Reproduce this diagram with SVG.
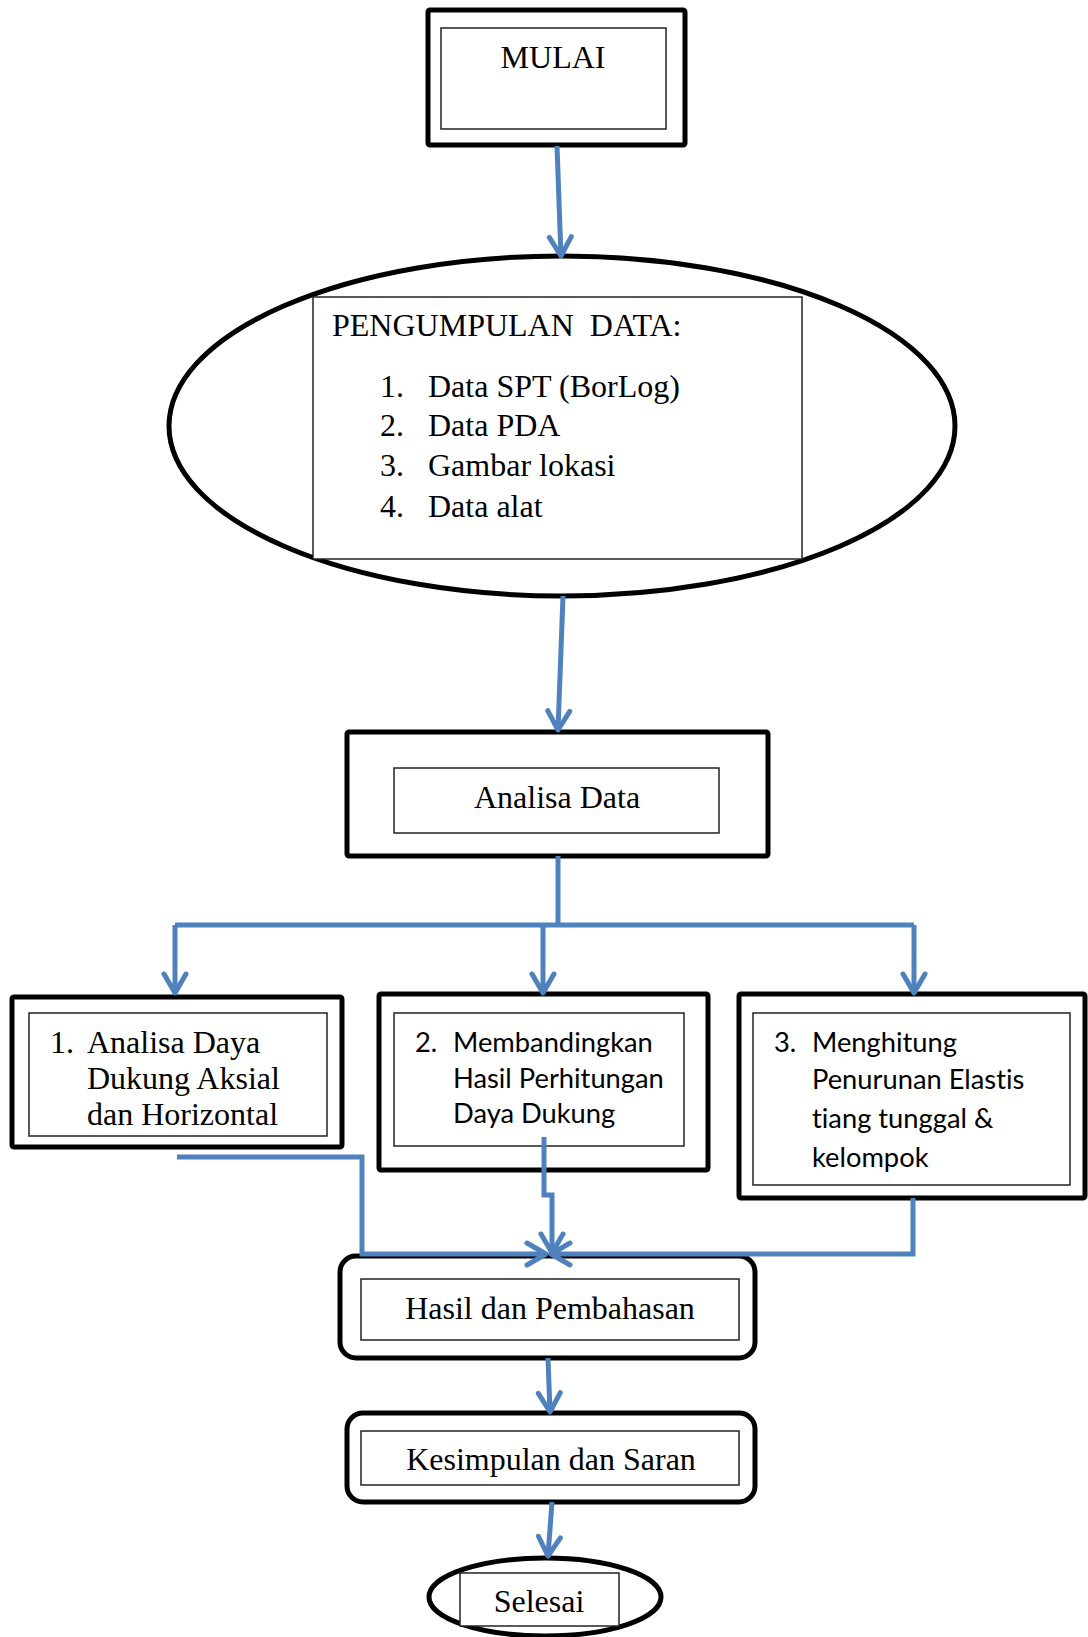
<svg xmlns="http://www.w3.org/2000/svg" width="1088" height="1637" viewBox="0 0 1088 1637">
<defs>
<style>
.outer{fill:#fff;stroke:#000;stroke-width:5}
.inner{fill:#fff;stroke:#222;stroke-width:1.5}
.serif{font-family:"Liberation Serif","Times New Roman",serif;font-size:32px;fill:#000}
.sans{font-family:Lato,"Open Sans",sans-serif;font-size:27.3px;fill:#000;font-variant-ligatures:none}
.mid{text-anchor:middle}
.conn{fill:none;stroke:#4F81BD;stroke-width:5;stroke-linejoin:miter}
</style>
<marker id="arr" markerUnits="userSpaceOnUse" viewBox="-24 -14 28 28" refX="0" refY="0" markerWidth="28" markerHeight="28" orient="auto" overflow="visible">
<path d="M-19,-11 L0,0 L-19,11" fill="none" stroke="#4F81BD" stroke-width="5" stroke-linecap="round" stroke-linejoin="round"/>
</marker>
</defs>
<rect width="1088" height="1637" fill="#fff"/>

<g id="mulai">
<rect class="outer" x="428" y="10" width="257" height="135" rx="2"/>
<rect class="inner" x="441" y="28" width="225" height="101"/>
<text class="serif mid" x="553" y="68">MULAI</text>
</g>

<g id="pengumpulan">
<ellipse cx="562" cy="426" rx="393" ry="170" fill="#fff" stroke="#000" stroke-width="5"/>
<rect class="inner" x="313" y="297" width="489" height="262"/>
<text class="serif" x="332" y="336" style="white-space:pre">PENGUMPULAN  DATA:</text>
<text class="serif" x="380" y="397">1.</text><text class="serif" x="428" y="397">Data SPT (BorLog)</text>
<text class="serif" x="380" y="436">2.</text><text class="serif" x="428" y="436">Data PDA</text>
<text class="serif" x="380" y="476">3.</text><text class="serif" x="428" y="476">Gambar lokasi</text>
<text class="serif" x="380" y="517">4.</text><text class="serif" x="428" y="517">Data alat</text>
</g>

<g id="analisa">
<rect class="outer" x="347" y="732" width="421" height="124" rx="2"/>
<rect class="inner" x="394" y="768" width="325" height="65"/>
<text class="serif mid" x="557" y="808">Analisa Data</text>
</g>

<g id="box1">
<rect class="outer" x="12" y="997" width="330" height="150" rx="2"/>
<rect class="inner" x="29" y="1013" width="298" height="123"/>
<text class="serif" x="50" y="1053">1.</text>
<text class="serif" x="87" y="1053">Analisa Daya</text>
<text class="serif" x="87" y="1089">Dukung Aksial</text>
<text class="serif" x="87" y="1125">dan Horizontal</text>
</g>

<g id="box2">
<rect class="outer" x="379" y="994" width="329" height="176" rx="2"/>
<rect class="inner" x="394" y="1013" width="290" height="133"/>
<text class="sans" x="415" y="1052">2.</text>
<text class="sans" x="453" y="1052">Membandingkan</text>
<text class="sans" x="453" y="1088">Hasil Perhitungan</text>
<text class="sans" x="453" y="1123">Daya Dukung</text>
</g>

<g id="box3">
<rect class="outer" x="739" y="994" width="346" height="204" rx="2"/>
<rect class="inner" x="753" y="1013" width="317" height="172"/>
<text class="sans" x="774" y="1052">3.</text>
<text class="sans" x="812" y="1052">Menghitung</text>
<text class="sans" x="812" y="1089">Penurunan Elastis</text>
<text class="sans" x="812" y="1128">tiang tunggal &amp;</text>
<text class="sans" x="812" y="1167">kelompok</text>
</g>

<g id="hasil">
<rect class="outer" x="340" y="1256" width="415" height="102" rx="16"/>
<rect class="inner" x="361" y="1279" width="378" height="61"/>
<text class="serif mid" x="550" y="1319">Hasil dan Pembahasan</text>
</g>

<g id="kesimpulan">
<rect class="outer" x="347" y="1413" width="408" height="89" rx="16"/>
<rect class="inner" x="361" y="1431" width="378" height="54"/>
<text class="serif mid" x="551" y="1470">Kesimpulan dan Saran</text>
</g>

<g id="selesai">
<ellipse cx="545" cy="1597" rx="116" ry="39" fill="#fff" stroke="#000" stroke-width="5"/>
<rect class="inner" x="460" y="1573" width="159" height="53"/>
<text class="serif mid" x="539" y="1612">Selesai</text>
</g>

<g id="connectors">
<path class="conn" d="M557,146 L561,256" marker-end="url(#arr)"/>
<path class="conn" d="M563,596 L558,730" marker-end="url(#arr)"/>
<path class="conn" d="M558,856 L558,925"/>
<path class="conn" d="M175,925 L914,925"/>
<path class="conn" d="M175,925 L175,993" marker-end="url(#arr)"/>
<path class="conn" d="M543,925 L543,993" marker-end="url(#arr)"/>
<path class="conn" d="M914,925 L914,993" marker-end="url(#arr)"/>
<path class="conn" d="M177,1157 L362,1157 L362,1254 L546,1254" marker-end="url(#arr)"/>
<path class="conn" d="M544,1137 L544,1195 L552,1195 L552,1253" marker-end="url(#arr)"/>
<path class="conn" d="M913,1198 L913,1254 L551,1254" marker-end="url(#arr)"/>
<path class="conn" d="M548,1358 L550,1412" marker-end="url(#arr)"/>
<path class="conn" d="M552,1502 L548,1556" marker-end="url(#arr)"/>
</g>
</svg>
